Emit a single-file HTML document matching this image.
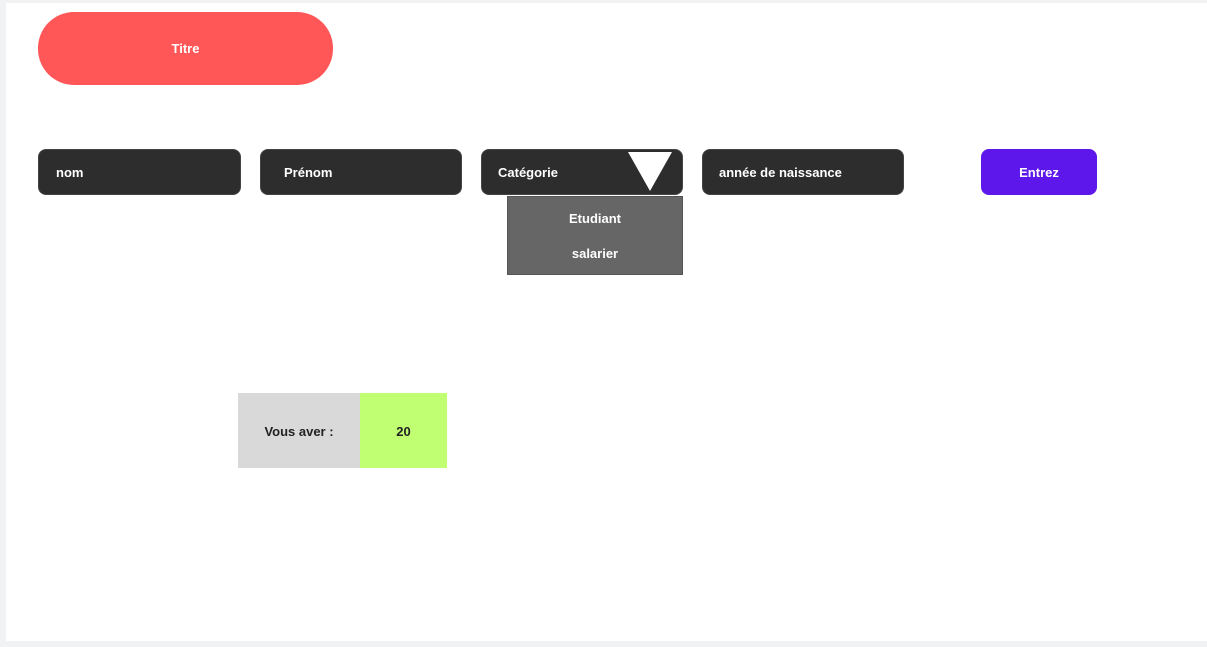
<!DOCTYPE html>
<html><head><meta charset="utf-8"><style>
body{margin:0;width:1207px;height:647px;background:#f1f2f4;position:relative;overflow:hidden;font-family:"Liberation Sans",sans-serif;font-weight:bold;font-size:13px}
div{position:absolute;box-sizing:border-box}
.pg{left:6px;top:3px;width:1201px;height:638px;background:#fff}
.f{top:149px;height:46px;background:#2d2d2d;border-radius:8px;color:#fff;line-height:46px;border:1px solid #444}
.c{text-align:center}
</style></head><body>
<div class="pg"></div>
<div class="c" style="left:38px;top:12px;width:295px;height:73px;background:#ff5757;border-radius:36px;color:#fff;line-height:74px">Titre</div>
<div class="f" style="left:38px;width:203px;padding-left:17px">nom</div>
<div class="f" style="left:260px;width:202px;padding-left:23px">Prénom</div>
<div class="f" style="left:481px;width:202px;padding-left:16px">Catégorie</div>
<svg style="position:absolute;left:628px;top:152px" width="45" height="40"><polygon points="0,0 44,0 22,39" fill="#fff"/></svg>
<div class="f" style="left:702px;width:202px;padding-left:16px">année de naissance</div>
<div class="c" style="left:981px;top:149px;width:116px;height:46px;background:#5e17eb;border-radius:8px;color:#fff;line-height:47px">Entrez</div>
<div style="left:507px;top:196px;width:176px;height:79px;background:#666;border:1px solid #555;color:#fff">
<div class="c" style="left:0;width:100%;top:14px">Etudiant</div>
<div class="c" style="left:0;width:100%;top:49px">salarier</div></div>
<div class="c" style="left:238px;top:393px;width:122px;height:75px;background:#d9d9d9;line-height:77px;color:#222">Vous aver :</div>
<div class="c" style="left:360px;top:393px;width:87px;height:75px;background:#c1ff72;line-height:77px;color:#222">20</div>
</body></html>
